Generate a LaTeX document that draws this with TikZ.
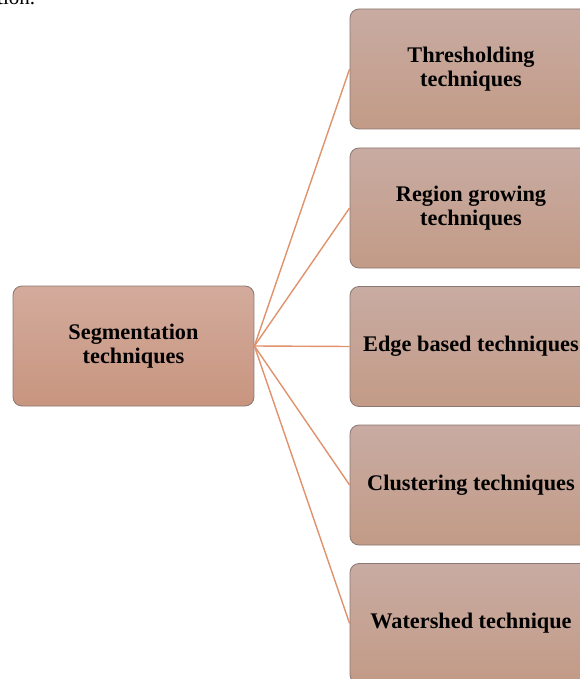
\documentclass[tikz,border=0pt]{standalone}
\usepackage{fontspec}
\setmainfont{Liberation Serif}
\definecolor{lefttop}{HTML}{D3AB9C}
\definecolor{leftbot}{HTML}{C8957F}
\definecolor{righttop}{HTML}{C8ABA2}
\definecolor{rightbot}{HTML}{C39B87}
\definecolor{boxborder}{HTML}{8A7672}
\definecolor{linkcol}{HTML}{DF926C}
\tikzset{
  leafbox/.style={draw=boxborder, line width=0.8pt, rounded corners=9pt,
    top color=righttop, bottom color=rightbot, minimum width=242pt, minimum height=120pt,
    align=center, font=\fontsize{22.3}{23.5}\selectfont\bfseries, text=black, inner sep=0pt},
  rootbox/.style={leafbox, top color=lefttop, bottom color=leftbot, minimum width=241pt},
  link/.style={draw=linkcol, line width=1.4pt}
}
\begin{document}
\begin{tikzpicture}[x=1pt,y=-1pt]
\useasboundingbox (0,0) rectangle (580,679);
\node[anchor=base west, font=\fontsize{21}{21}\selectfont, inner sep=0pt] (frag) at (-3,5) {tion.};
\node[rootbox] (root) at (133.5,346) {Segmentation\\techniques};
\node[leafbox] (t1) at (471,69) {Thresholding\\techniques};
\node[leafbox] (t2) at (471,208) {Region growing\\techniques};
\node[leafbox] (t3) at (471,346.5) {Edge based techniques};
\node[leafbox] (t4) at (471,485) {Clustering techniques};
\node[leafbox] (t5) at (471,623.5) {Watershed technique};
\foreach \n in {t1,t2,t3,t4,t5}{
  \draw[link] (root.east) -- (\n.west);
}
\end{tikzpicture}
\end{document}
